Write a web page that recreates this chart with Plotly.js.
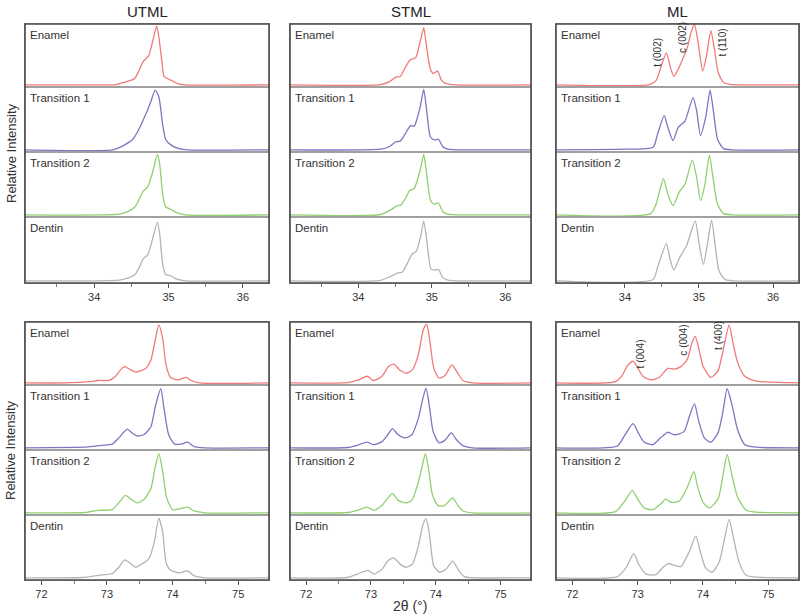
<!DOCTYPE html>
<html>
<head>
<meta charset="utf-8">
<script src="https://cdn.plot.ly/plotly-3.0.1.min.js"></script>
<style>html,body{margin:0;padding:0;background:#fff;}#chart{width:800px;height:616px;}</style>
</head>
<body>
<div id="chart"></div>
<script>
// ---------- labels ----------
const columnTitles = ['UTML', 'STML', 'ML'];
const sampleNames = ['Enamel', 'Transition 1', 'Transition 2', 'Dentin'];
const ticksTop = [34, 35, 36];
const ticksBottom = [72, 73, 74, 75];
const peakLabelsTop = ['t (002)', 'c (002)', 't (110)'];
const peakPosTop = [34.44, 34.78, 35.32];
const peakLabelsBottom = ['t (004)', 'c (004)', 't (400)'];
const peakPosBottom = [73.05, 73.70, 74.24];

// ---------- UTML, 33-36.4 deg ----------
const utmlTopEnamelX = [33.07,34.0,34.29,34.4,34.54,34.6,34.66,34.73,34.78,34.84,34.87,34.91,34.94,35.01,35.06,35.12,35.23,36.35];
const utmlTopEnamelY = [0,0,0.005,0.04,0.1,0.23,0.39,0.48,0.69,0.98,0.79,0.39,0.14,0.09,0.06,0.02,0,0];
const utmlTopT1X = [33.07,34.25,34.38,34.52,34.61,34.7,34.76,34.82,34.87,34.92,34.96,35.03,35.14,35.27,36.35];
const utmlTopT1Y = [0,0,0.06,0.17,0.35,0.59,0.77,0.96,0.85,0.41,0.17,0.08,0.02,0,0];
const utmlTopT2X = [33.07,34.34,34.45,34.55,34.61,34.66,34.72,34.78,34.85,34.88,34.92,34.96,35.03,35.1,35.23,36.35];
const utmlTopT2Y = [0,0.01,0.05,0.13,0.26,0.38,0.45,0.66,0.97,0.82,0.34,0.13,0.09,0.04,0,0];
const utmlTopDentinX = [33.07,34.34,34.47,34.55,34.61,34.66,34.72,34.78,34.85,34.88,34.92,34.96,35.03,35.1,35.23,36.35];
const utmlTopDentinY = [0,0.01,0.05,0.1,0.22,0.35,0.41,0.64,0.93,0.75,0.27,0.1,0.08,0.03,0,0];

// ---------- STML, 33-36.4 deg ----------
const stmlTopEnamelX = [33.07,34.3,34.42,34.51,34.57,34.64,34.71,34.78,34.84,34.89,34.92,34.98,35.02,35.08,35.13,35.2,35.33,36.35];
const stmlTopEnamelY = [0,0.005,0.05,0.13,0.14,0.29,0.42,0.45,0.71,0.95,0.71,0.26,0.19,0.23,0.08,0.02,0,0];
const stmlTopT1X = [33.07,34.3,34.42,34.51,34.57,34.64,34.71,34.76,34.84,34.89,34.93,34.98,35.03,35.09,35.15,35.22,35.33,36.35];
const stmlTopT1Y = [0,0.01,0.05,0.13,0.14,0.26,0.39,0.38,0.68,0.97,0.63,0.21,0.16,0.17,0.05,0.01,0,0];
const stmlTopT2X = [33.07,34.3,34.44,34.52,34.58,34.64,34.7,34.76,34.84,34.89,34.93,34.98,35.03,35.09,35.15,35.22,35.33,36.35];
const stmlTopT2Y = [0,0.005,0.08,0.14,0.16,0.26,0.39,0.42,0.71,0.97,0.66,0.24,0.17,0.19,0.05,0.01,0,0];
const stmlTopDentinX = [33.07,34.3,34.44,34.53,34.6,34.66,34.73,34.79,34.85,34.89,34.93,34.99,35.04,35.09,35.15,35.22,35.33,36.35];
const stmlTopDentinY = [0,0.005,0.07,0.12,0.14,0.26,0.42,0.47,0.71,0.95,0.66,0.18,0.17,0.18,0.05,0.01,0,0];

// ---------- ML, 33-36.4 deg ----------
const mlTopEnamelX = [33.07,34.33,34.42,34.49,34.56,34.61,34.66,34.72,34.78,34.84,34.9,34.94,34.99,35.05,35.1,35.16,35.21,35.26,35.33,35.42,36.35];
const mlTopEnamelY = [0,0.005,0.07,0.31,0.53,0.31,0.14,0.26,0.43,0.61,0.9,1.0,0.69,0.23,0.47,0.9,0.58,0.2,0.04,0.01,0];
const mlTopT1X = [33.07,34.0,34.38,34.44,34.53,34.58,34.65,34.72,34.81,34.92,34.97,35.02,35.09,35.15,35.2,35.25,35.33,35.45,36.35];
const mlTopT1Y = [0,0.01,0.04,0.25,0.55,0.36,0.15,0.36,0.46,0.84,0.62,0.23,0.52,0.96,0.57,0.17,0.02,0,0];
const mlTopT2X = [33.07,34.35,34.42,34.52,34.58,34.65,34.74,34.81,34.91,34.97,35.02,35.08,35.14,35.19,35.25,35.33,35.45,36.35];
const mlTopT2Y = [0,0.02,0.17,0.58,0.33,0.15,0.38,0.49,0.88,0.59,0.23,0.49,0.96,0.59,0.17,0.02,0,0];
const mlTopDentinX = [33.07,34.38,34.44,34.56,34.61,34.66,34.74,34.83,34.95,35.0,35.06,35.11,35.17,35.22,35.27,35.35,35.45,36.35];
const mlTopDentinY = [0,0.02,0.21,0.59,0.34,0.17,0.37,0.55,0.95,0.6,0.26,0.55,0.96,0.55,0.16,0.02,0,0];

// ---------- UTML, 71.7-75.5 deg ----------
const utmlBotEnamelX = [71.75,72.36,72.72,72.87,73.03,73.13,73.21,73.27,73.34,73.44,73.51,73.59,73.67,73.73,73.79,73.85,73.9,73.97,74.08,74.21,74.28,74.41,75.47];
const utmlBotEnamelY = [0,0,0.02,0.04,0.04,0.11,0.22,0.27,0.23,0.18,0.2,0.24,0.38,0.68,0.96,0.73,0.3,0.09,0.05,0.09,0.04,0,0];
const utmlBotT1X = [71.75,72.72,72.92,73.08,73.18,73.31,73.38,73.46,73.56,73.67,73.74,73.82,73.87,73.94,74.03,74.13,74.23,74.33,74.5,75.47];
const utmlBotT1Y = [0,0.015,0.04,0.06,0.16,0.3,0.24,0.19,0.21,0.34,0.68,0.95,0.63,0.21,0.06,0.06,0.09,0.02,0,0];
const utmlBotT2X = [71.75,72.67,72.87,73.08,73.18,73.28,73.38,73.46,73.56,73.67,73.73,73.79,73.85,73.91,74.0,74.13,74.23,74.33,74.5,75.47];
const utmlBotT2Y = [0,0.005,0.04,0.05,0.16,0.28,0.21,0.16,0.21,0.39,0.71,0.95,0.66,0.24,0.05,0.07,0.09,0.03,0,0];
const utmlBotDentinX = [71.75,72.62,72.87,73.08,73.18,73.27,73.36,73.44,73.54,73.64,73.72,73.79,73.85,73.9,73.97,74.1,74.23,74.33,74.5,75.47];
const utmlBotDentinY = [0,0.005,0.04,0.07,0.17,0.29,0.23,0.17,0.23,0.31,0.57,0.96,0.73,0.25,0.12,0.08,0.11,0.03,0,0];

// ---------- STML, 71.7-75.5 deg ----------
const stmlBotEnamelX = [71.75,72.64,72.79,72.94,73.04,73.17,73.27,73.35,73.45,73.55,73.64,73.73,73.81,73.86,73.91,73.97,74.05,74.14,74.25,74.34,74.42,74.57,75.47];
const stmlBotEnamelY = [0,0.005,0.04,0.11,0.04,0.11,0.27,0.31,0.21,0.16,0.22,0.46,0.89,0.97,0.68,0.24,0.08,0.12,0.3,0.16,0.04,0,0];
const stmlBotT1X = [71.75,72.64,72.79,72.94,73.04,73.17,73.26,73.33,73.42,73.53,73.63,73.73,73.8,73.85,73.9,73.96,74.05,74.14,74.24,74.32,74.41,74.57,75.47];
const stmlBotT1Y = [0,0.005,0.04,0.09,0.05,0.1,0.21,0.31,0.21,0.16,0.21,0.47,0.79,0.96,0.68,0.26,0.08,0.12,0.24,0.13,0.04,0,0];
const stmlBotT2X = [71.75,72.64,72.79,72.94,73.05,73.17,73.33,73.42,73.53,73.63,73.73,73.79,73.84,73.89,73.95,74.04,74.14,74.26,74.34,74.42,74.57,75.47];
const stmlBotT2Y = [0,0.005,0.04,0.09,0.04,0.12,0.31,0.2,0.16,0.2,0.49,0.75,0.95,0.7,0.28,0.11,0.12,0.24,0.12,0.03,0,0];
const stmlBotDentinX = [71.75,72.64,72.79,72.95,73.05,73.17,73.26,73.35,73.45,73.54,73.64,73.73,73.8,73.85,73.9,73.97,74.06,74.16,74.26,74.36,74.44,74.6,75.47];
const stmlBotDentinY = [0,0.005,0.06,0.12,0.06,0.14,0.27,0.32,0.22,0.17,0.22,0.51,0.85,0.95,0.72,0.19,0.09,0.14,0.27,0.11,0.02,0,0];

// ---------- ML, 71.7-75.5 deg ----------
const mlBotEnamelX = [71.75,72.66,72.76,72.84,72.93,73.0,73.08,73.2,73.33,73.46,73.56,73.66,73.76,73.83,73.88,73.93,74.0,74.12,74.23,74.3,74.4,74.46,74.53,74.64,74.82,75.47];
const mlBotEnamelY = [0,0.02,0.12,0.28,0.36,0.25,0.11,0.05,0.09,0.24,0.23,0.27,0.39,0.66,0.77,0.6,0.28,0.09,0.2,0.5,0.96,0.66,0.34,0.11,0.03,0];
const mlBotT1X = [71.75,72.69,72.79,72.93,73.01,73.1,73.23,73.35,73.46,73.56,73.71,73.79,73.87,73.93,74.02,74.12,74.23,74.3,74.37,74.44,74.53,74.64,74.82,75.47];
const mlBotT1Y = [0,0.03,0.18,0.39,0.24,0.09,0.05,0.16,0.25,0.21,0.26,0.5,0.71,0.45,0.16,0.09,0.24,0.55,0.95,0.71,0.29,0.05,0.01,0];
const mlBotT2X = [71.75,72.66,72.79,72.92,73.0,73.1,73.23,73.35,73.43,73.51,73.64,73.76,73.86,73.92,74.0,74.1,74.23,74.3,74.37,74.44,74.53,74.66,74.82,75.47];
const mlBotT2Y = [0,0.02,0.17,0.36,0.22,0.08,0.05,0.14,0.22,0.17,0.19,0.41,0.66,0.41,0.17,0.08,0.22,0.56,0.94,0.62,0.25,0.04,0.01,0];
const mlBotDentinX = [71.75,72.69,72.82,72.94,73.02,73.13,73.28,73.38,73.47,73.56,73.66,73.79,73.89,73.96,74.04,74.14,74.25,74.33,74.4,74.46,74.55,74.66,74.82,75.47];
const mlBotDentinY = [0,0.02,0.16,0.39,0.21,0.06,0.05,0.16,0.23,0.2,0.18,0.42,0.67,0.42,0.16,0.09,0.26,0.63,0.94,0.68,0.26,0.04,0.01,0];

// ---------- styling / layout (pixel geometry) ----------
const W = 800, H = 616;
const colors = ['#f07a7a', '#7a78c0', '#90d070', '#bab2b2'];
const colPx = [[25, 269], [290, 531], [556, 799]];
const bandRowsPx = [[24, 87, 152, 217, 283], [322, 385, 450, 515, 580]];
const bandRanges = [[33.07, 36.35], [71.75, 75.47]];
const bandTicks = [ticksTop, ticksBottom];

const panels = [
  {col: 0, band: 0, curves: [[utmlTopEnamelX, utmlTopEnamelY], [utmlTopT1X, utmlTopT1Y], [utmlTopT2X, utmlTopT2Y], [utmlTopDentinX, utmlTopDentinY]]},
  {col: 1, band: 0, curves: [[stmlTopEnamelX, stmlTopEnamelY], [stmlTopT1X, stmlTopT1Y], [stmlTopT2X, stmlTopT2Y], [stmlTopDentinX, stmlTopDentinY]]},
  {col: 2, band: 0, curves: [[mlTopEnamelX, mlTopEnamelY], [mlTopT1X, mlTopT1Y], [mlTopT2X, mlTopT2Y], [mlTopDentinX, mlTopDentinY]]},
  {col: 0, band: 1, curves: [[utmlBotEnamelX, utmlBotEnamelY], [utmlBotT1X, utmlBotT1Y], [utmlBotT2X, utmlBotT2Y], [utmlBotDentinX, utmlBotDentinY]]},
  {col: 1, band: 1, curves: [[stmlBotEnamelX, stmlBotEnamelY], [stmlBotT1X, stmlBotT1Y], [stmlBotT2X, stmlBotT2Y], [stmlBotDentinX, stmlBotDentinY]]},
  {col: 2, band: 1, curves: [[mlBotEnamelX, mlBotEnamelY], [mlBotT1X, mlBotT1Y], [mlBotT2X, mlBotT2Y], [mlBotDentinX, mlBotDentinY]]}
];

const FONT = 'Arial, "Liberation Sans", Helvetica, sans-serif';
const traces = [];
const layout = {
  width: W, height: H,
  margin: {l: 0, r: 0, t: 0, b: 0},
  paper_bgcolor: '#ffffff', plot_bgcolor: '#ffffff',
  showlegend: false,
  font: {family: FONT, color: '#333'},
  annotations: [], shapes: []
};

let n = 0;
panels.forEach(p => {
  const [c0, c1] = colPx[p.col];
  const rows = bandRowsPx[p.band];
  p.curves.forEach((cv, r) => {
    n += 1;
    const xs = n === 1 ? '' : String(n);
    const xa = 'x' + xs, ya = 'y' + xs;
    const isBottom = r === 3;
    traces.push({
      type: 'scatter', mode: 'lines', x: cv[0], y: cv[1], xaxis: xa, yaxis: ya,
      line: {color: colors[r], width: 1.3, shape: 'spline', smoothing: 0.6},
      hoverinfo: 'skip'
    });
    layout['xaxis' + xs] = {
      domain: [c0 / W, c1 / W], range: bandRanges[p.band], anchor: ya,
      showline: true, mirror: true, linecolor: '#a0a0a0', linewidth: 1,
      showgrid: false, zeroline: false, fixedrange: true,
      showticklabels: isBottom, ticks: isBottom ? 'outside' : '',
      tickmode: 'array', tickvals: isBottom ? bandTicks[p.band] : [],
      ticklen: 4, tickwidth: 1, tickcolor: '#555',
      tickfont: {size: 11, color: '#333', family: FONT},
      minor: isBottom ? {ticks: 'outside', tickmode: 'linear', tick0: 0.5, dtick: 1, ticklen: 3, tickcolor: '#777', showgrid: false} : {ticks: ''}
    };
    layout['yaxis' + xs] = {
      domain: [1 - rows[r + 1] / H, 1 - rows[r] / H], range: [-0.035, 1.01], anchor: xa,
      showline: true, mirror: true, linecolor: '#a0a0a0', linewidth: 1,
      showgrid: false, zeroline: false, showticklabels: false, ticks: '', fixedrange: true
    };
    layout.annotations.push({
      xref: xa + ' domain', yref: ya + ' domain', x: 0.012, y: 0.96,
      xanchor: 'left', yanchor: 'top', showarrow: false,
      text: sampleNames[r], font: {size: 11.5, color: '#333', family: FONT}
    });
    if (p.col === 2 && r === 0) {
      const labels = p.band === 0 ? peakLabelsTop : peakLabelsBottom;
      const pos = p.band === 0 ? peakPosTop : peakPosBottom;
      const ys = p.band === 0 ? [0.55, 0.79, 0.70] : [0.50, 0.71, 0.79];
      labels.forEach((t, i) => {
        layout.annotations.push({
          xref: xa, yref: ya + ' domain', x: pos[i], y: ys[i],
          xanchor: 'center', yanchor: 'middle', textangle: -90, showarrow: false,
          text: t, font: {size: 10, color: '#333', family: FONT}
        });
      });
    }
  });
  layout.shapes.push({
    type: 'rect', xref: 'paper', yref: 'paper', layer: 'above',
    x0: c0 / W, x1: c1 / W, y0: 1 - rows[4] / H, y1: 1 - rows[0] / H,
    line: {color: '#4a4a4a', width: 1.6}
  });
});

columnTitles.forEach((t, i) => {
  layout.annotations.push({
    xref: 'paper', yref: 'paper', x: (colPx[i][0] + colPx[i][1]) / 2 / W, y: 1 - 11 / H,
    xanchor: 'center', yanchor: 'middle', showarrow: false,
    text: t, font: {size: 15, color: '#222', family: FONT}
  });
});
[154, 451].forEach(cy => {
  layout.annotations.push({
    xref: 'paper', yref: 'paper', x: 11 / W, y: 1 - cy / H,
    xanchor: 'center', yanchor: 'middle', textangle: -90, showarrow: false,
    text: 'Relative Intensity', font: {size: 13, color: '#333', family: FONT}
  });
});
layout.annotations.push({
  xref: 'paper', yref: 'paper', x: 410 / W, y: 1 - 606 / H,
  xanchor: 'center', yanchor: 'middle', showarrow: false,
  text: '2θ (°)', font: {size: 14, color: '#333', family: FONT}
});

Plotly.newPlot('chart', traces, layout, {staticPlot: true, displayModeBar: false});
</script>
</body>
</html>
